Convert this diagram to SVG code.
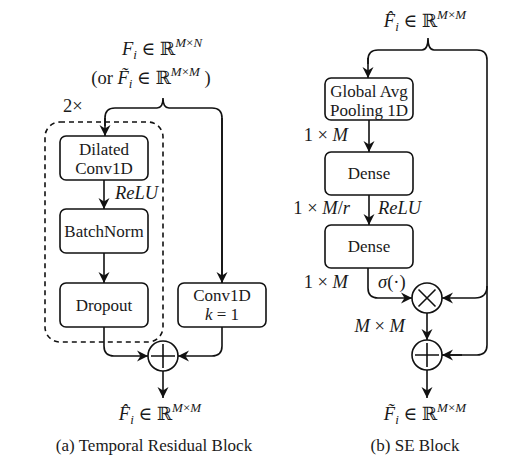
<svg xmlns="http://www.w3.org/2000/svg" width="523" height="468" viewBox="0 0 523 468">
<style>
.t{font-family:"Liberation Serif","DejaVu Serif",serif;font-size:17px;fill:#1a1a1a}
.m{font-size:18.5px}
.i{font-style:italic}
.s{font-size:13px}
.box{fill:#fff;stroke:#111;stroke-width:1.6}
.ln{fill:none;stroke:#111;stroke-width:1.6}
.arr{fill:none;stroke:#111;stroke-width:1.6;marker-end:url(#ah)}
.dash{fill:none;stroke:#111;stroke-width:1.6;stroke-dasharray:5,4}
</style>
<defs>
<marker id="ah" markerUnits="userSpaceOnUse" markerWidth="12" markerHeight="12" viewBox="0 0 12 12" refX="11" refY="6" orient="auto">
<path d="M0,0.5 L11,6 L0,11.5 L3.5,6 z" fill="#111"/>
</marker>
</defs>
<rect width="523" height="468" fill="#fff"/>

<g id="connectors">
<path class="ln" d="M222,283 L222,118 Q222,108 212,108 L169,108 Q163,108 163,98 Q163,108 157,108 L115,108 Q105,108 105,118 L105,126"/>
<path class="arr" d="M105,118 L105,136"/>
<path class="arr" d="M222,118 L222,283"/>
<path class="arr" d="M104,180 L104,209"/>
<path class="arr" d="M104,253 L104,283"/>
<path class="arr" d="M104,327 L104,346 Q104,356 114,356 L148,356"/>
<path class="arr" d="M222,327 L222,346 Q222,356 212,356 L178,356"/>
<path class="arr" d="M163,371 L163,398"/>

<path class="ln" d="M368,64 L368,60 Q368,50 378,50 L422,50 Q428,50 428,38 Q428,50 434,50 L477,50 Q487,50 487,60 L487,345 Q487,355 477,355 L442,355"/>
<path class="arr" d="M368,58 L368,78"/>
<path class="arr" d="M462,355 L442,355"/>
<path class="arr" d="M487,286 Q487,298 475,298 L442,298"/>
<path class="arr" d="M369,120 L369,152"/>
<path class="arr" d="M369,195 L369,225"/>
<path class="arr" d="M368,268 L368,288 Q368,298 378,298 L412,298"/>
<path class="arr" d="M427,313 L427,340"/>
<path class="arr" d="M427,370 L427,398"/>
</g>

<g id="repeat-group">
<rect class="dash" x="45" y="122" width="118" height="220" rx="15"/>
<text class="t m" x="63" y="112">2×</text>
</g>

<g id="dilated-conv">
<rect class="box" x="60" y="136" width="88" height="44" rx="6"/>
<text class="t" x="104" y="155" text-anchor="middle">Dilated</text>
<text class="t" x="104" y="174" text-anchor="middle">Conv1D</text>
</g>
<text class="t m i" x="115" y="199">ReLU</text>

<g id="batchnorm">
<rect class="box" x="60" y="209" width="88" height="44" rx="6"/>
<text class="t" x="104" y="237" text-anchor="middle">BatchNorm</text>
</g>

<g id="dropout">
<rect class="box" x="60" y="283" width="88" height="44" rx="6"/>
<text class="t" x="104" y="311" text-anchor="middle">Dropout</text>
</g>

<g id="conv1d">
<rect class="box" x="178" y="283" width="88" height="44" rx="6"/>
<text class="t" x="222" y="301" text-anchor="middle">Conv1D</text>
<text class="t" x="222" y="320" text-anchor="middle"><tspan class="i">k</tspan> = 1</text>
</g>

<g id="add-left">
<circle class="box" cx="163" cy="356" r="15"/>
<path class="ln" d="M163,344 L163,368 M151,356 L175,356"/>
</g>

<g id="labels-left">
<text class="t m" x="162" y="55" text-anchor="middle"><tspan class="i">F</tspan><tspan class="i s" dy="4">i</tspan><tspan dy="-4"> ∈ ℝ</tspan><tspan class="i s" dy="-8">M</tspan><tspan class="s">×</tspan><tspan class="i s">N</tspan></text>
<text class="t m" x="151" y="84" text-anchor="middle">(or  <tspan class="i">F̃</tspan><tspan class="i s" dy="4">i</tspan><tspan dy="-4"> ∈ ℝ</tspan><tspan class="i s" dy="-8">M</tspan><tspan class="s">×</tspan><tspan class="i s">M</tspan><tspan dy="8"> )</tspan></text>
<text class="t m" x="160" y="420" text-anchor="middle"><tspan class="i">F̂</tspan><tspan class="i s" dy="4">i</tspan><tspan dy="-4"> ∈ ℝ</tspan><tspan class="i s" dy="-8">M</tspan><tspan class="s">×</tspan><tspan class="i s">M</tspan></text>
<text class="t" x="154" y="451" text-anchor="middle">(a) Temporal Residual Block</text>
</g>

<g id="gap">
<rect class="box" x="325" y="78" width="88" height="42" rx="6"/>
<text class="t" x="369" y="97" text-anchor="middle">Global Avg</text>
<text class="t" x="369" y="116" text-anchor="middle">Pooling 1D</text>
</g>

<g id="dense1">
<rect class="box" x="325" y="152" width="88" height="43" rx="6"/>
<text class="t" x="369" y="179" text-anchor="middle">Dense</text>
</g>

<g id="dense2">
<rect class="box" x="325" y="225" width="88" height="43" rx="6"/>
<text class="t" x="369" y="252" text-anchor="middle">Dense</text>
</g>

<g id="mul">
<circle class="box" cx="427" cy="298" r="15"/>
<path class="ln" d="M418.5,289.5 L435.5,306.5 M435.5,289.5 L418.5,306.5"/>
</g>

<g id="add-right">
<circle class="box" cx="427" cy="355" r="15"/>
<path class="ln" d="M427,343 L427,367 M415,355 L439,355"/>
</g>

<g id="labels-right">
<text class="t m" x="425" y="27" text-anchor="middle"><tspan class="i">F̂</tspan><tspan class="i s" dy="4">i</tspan><tspan dy="-4"> ∈ ℝ</tspan><tspan class="i s" dy="-8">M</tspan><tspan class="s">×</tspan><tspan class="i s">M</tspan></text>
<text class="t m" x="348" y="141" text-anchor="end">1 × <tspan class="i">M</tspan></text>
<text class="t m" x="350" y="214" text-anchor="end">1 × <tspan class="i">M</tspan>/<tspan class="i">r</tspan></text>
<text class="t m i" x="378" y="214">ReLU</text>
<text class="t m" x="348" y="288" text-anchor="end">1 × <tspan class="i">M</tspan></text>
<text class="t m" x="378" y="288"><tspan class="i">σ</tspan>(·)</text>
<text class="t m" x="405" y="332" text-anchor="end"><tspan class="i">M</tspan> × <tspan class="i">M</tspan></text>
<text class="t m" x="425" y="420" text-anchor="middle"><tspan class="i">F̃</tspan><tspan class="i s" dy="4">i</tspan><tspan dy="-4"> ∈ ℝ</tspan><tspan class="i s" dy="-8">M</tspan><tspan class="s">×</tspan><tspan class="i s">M</tspan></text>
<text class="t" x="415" y="451" text-anchor="middle">(b) SE Block</text>
</g>
</svg>
